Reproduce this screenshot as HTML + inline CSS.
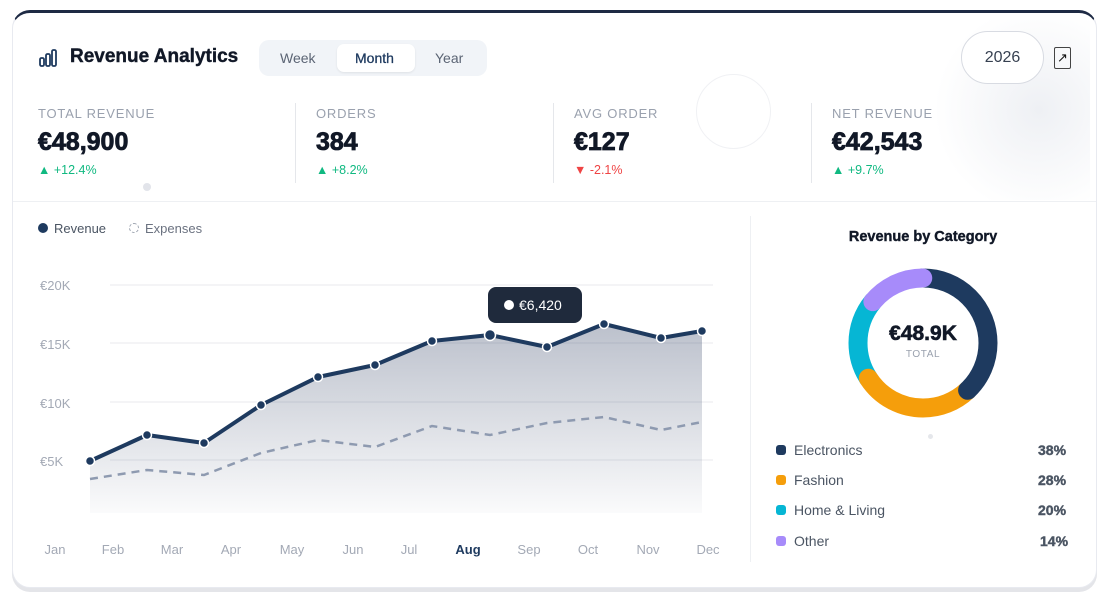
<!DOCTYPE html>
<html><head><meta charset="utf-8"><style>
*{margin:0;padding:0;box-sizing:border-box}
body{width:1110px;height:603px;background:#fff;font-family:"Liberation Sans",sans-serif;position:relative;overflow:hidden}
.card{position:absolute;left:12px;top:10px;width:1085px;height:578px;border-radius:18px;background:#fff;border:1px solid #e8eaf0;border-top:3px solid #1e2a44;box-shadow:0 4px 0 #e4e5e9}
.abs{position:absolute}
.lbl{font-size:13px;color:#9aa1ae;letter-spacing:.8px}
.val{font-size:25px;font-weight:700;color:#111827;-webkit-text-stroke:.8px #111827}
.chg{font-size:12.5px;color:#10b981}
.sep{position:absolute;top:103px;width:1px;height:80px;background:#e5e7eb}
.b{font-weight:700;-webkit-text-stroke:.4px currentColor}
</style></head><body>
<div class="card"></div>
<div class="abs" style="left:920px;top:20px;width:170px;height:180px;background:radial-gradient(circle at 70% 50%,#eef0f4,transparent 70%)"></div>
<svg class="abs" style="left:38px;top:48px" width="22" height="20"><g fill="none" stroke="#1e3a5f" stroke-width="1.8"><rect x="2" y="10" width="4" height="8" rx="1.5"/><rect x="8" y="6" width="4" height="12" rx="1.5"/><rect x="14" y="2" width="4" height="16" rx="1.5"/></g></svg>
<div class="abs b" style="left:70px;top:46px;font-size:19px;color:#111827">Revenue Analytics</div>
<div class="abs" style="left:259px;top:40px;width:228px;height:36px;background:#f1f4f8;border-radius:10px"></div>
<div class="abs" style="left:337px;top:44px;width:78px;height:28px;background:#fff;border-radius:7px;box-shadow:0 1px 2px rgba(0,0,0,.08)"></div>
<div class="abs" style="left:280px;top:50px;font-size:14px;color:#5b6474">Week</div>
<div class="abs" style="left:355px;top:50px;font-size:14px;color:#1e3a5f;-webkit-text-stroke:.3px #1e3a5f">Month</div>
<div class="abs" style="left:435px;top:50px;font-size:14px;color:#5b6474">Year</div>
<div class="abs" style="left:961px;top:31px;width:83px;height:53px;border:1px solid #d8dbe2;border-radius:27px;background:#fff;font-size:16px;color:#374151;text-align:center;line-height:51px">2026</div>
<div class="abs" style="left:1054px;top:47px;width:17px;height:22px;border:1px solid #444;border-radius:2px;font-size:13px;text-align:center;line-height:20px;color:#111">↗</div>
<div class="abs" style="left:696px;top:74px;width:75px;height:75px;border-radius:50%;border:1px solid #f0f1f4"></div>

<div class="abs lbl" style="left:38px;top:106px">TOTAL REVENUE</div>
<div class="abs val" style="left:38px;top:128px">€48,900</div>
<div class="abs chg" style="left:38px;top:163px">▲ +12.4%</div>
<div class="sep" style="left:295px"></div>
<div class="abs lbl" style="left:316px;top:106px">ORDERS</div>
<div class="abs val" style="left:316px;top:128px">384</div>
<div class="abs chg" style="left:316px;top:163px">▲ +8.2%</div>
<div class="sep" style="left:553px"></div>
<div class="abs lbl" style="left:574px;top:106px">AVG ORDER</div>
<div class="abs val" style="left:574px;top:128px">€127</div>
<div class="abs chg" style="left:574px;top:163px;color:#ef4444">▼ -2.1%</div>
<div class="sep" style="left:811px"></div>
<div class="abs lbl" style="left:832px;top:106px">NET REVENUE</div>
<div class="abs val" style="left:832px;top:128px">€42,543</div>
<div class="abs chg" style="left:832px;top:163px">▲ +9.7%</div>
<div class="abs" style="left:143px;top:183px;width:8px;height:8px;border-radius:50%;background:#e2e4ea"></div>
<div class="abs" style="left:13px;top:201px;width:1083px;height:1px;background:#eef0f3"></div>
<div class="abs" style="left:750px;top:216px;width:1px;height:346px;background:#eef0f3"></div>

<div class="abs" style="left:38px;top:223px;width:10px;height:10px;border-radius:50%;background:#1e3a5f"></div>
<div class="abs" style="left:54px;top:221px;font-size:13px;color:#4b5563">Revenue</div>
<div class="abs" style="left:129px;top:223px;width:10px;height:10px;border-radius:50%;border:1px dashed #9ca3af"></div>
<div class="abs" style="left:145px;top:221px;font-size:13px;color:#6b7280">Expenses</div>

<svg class="abs" style="left:0;top:0" width="750" height="603">
<defs><linearGradient id="g" x1="0" y1="0" x2="0" y2="1"><stop offset="0" stop-color="#1e2f55" stop-opacity=".3"/><stop offset="1" stop-color="#1e2f55" stop-opacity=".02"/></linearGradient></defs>
<g stroke="#f0f1f4" stroke-width="1.5"><line x1="110" y1="285" x2="713" y2="285"/><line x1="110" y1="343" x2="713" y2="343"/><line x1="110" y1="402" x2="713" y2="402"/><line x1="110" y1="460" x2="713" y2="460"/></g>
<g font-size="13" fill="#a3a9b5" font-family="Liberation Sans Narrow,Liberation Sans,sans-serif"><text x="40" y="290">€20K</text><text x="40" y="349">€15K</text><text x="40" y="408">€10K</text><text x="40" y="466">€5K</text></g>
<path d="M90,461 L147,435 204,443 261,405 318,377 375,365 432,341 490,335 547,347 604,324 661,338 702,331 L702,513 L90,513Z" fill="url(#g)"/>
<polyline points="90,479 147,470 204,475 261,453 318,440 375,447 432,426 490,435 547,423 604,417 661,430 702,422" fill="none" stroke="#8e9ab0" stroke-width="2.5" stroke-dasharray="8,6"/>
<polyline points="90,461 147,435 204,443 261,405 318,377 375,365 432,341 490,335 547,347 604,324 661,338 702,331" fill="none" stroke="#1e3a5f" stroke-width="4" stroke-linejoin="round"/>
<g fill="#1e3a5f" stroke="#fff" stroke-width="1.5"><circle cx="90" cy="461" r="4.5"/><circle cx="147" cy="435" r="4.5"/><circle cx="204" cy="443" r="4.5"/><circle cx="261" cy="405" r="4.5"/><circle cx="318" cy="377" r="4.5"/><circle cx="375" cy="365" r="4.5"/><circle cx="432" cy="341" r="4.5"/><circle cx="490" cy="335" r="5.5"/><circle cx="547" cy="347" r="4.5"/><circle cx="604" cy="324" r="4.5"/><circle cx="661" cy="338" r="4.5"/><circle cx="702" cy="331" r="4.5"/></g>
<rect x="488" y="287" width="94" height="36" rx="8" fill="#1f2a3c"/>
<circle cx="509" cy="305" r="5" fill="#fff"/>
<text x="519" y="310" font-size="14" fill="#fff">€6,420</text>
<g font-size="13" fill="#a3a9b5" text-anchor="middle"><text x="55" y="554">Jan</text><text x="113" y="554">Feb</text><text x="172" y="554">Mar</text><text x="231" y="554">Apr</text><text x="292" y="554">May</text><text x="353" y="554">Jun</text><text x="409" y="554">Jul</text><text x="468" y="554" fill="#1e3a5f" font-weight="bold">Aug</text><text x="529" y="554">Sep</text><text x="588" y="554">Oct</text><text x="648" y="554">Nov</text><text x="708" y="554">Dec</text></g>
</svg>

<div class="abs b" style="left:760px;top:229px;width:326px;text-align:center;font-size:14.5px;color:#111827">Revenue by Category</div>
<svg class="abs" style="left:848px;top:268px" width="150" height="150">
<g fill="none" stroke-width="19" stroke-linecap="round" transform="rotate(-90 75 75)">
<circle cx="75" cy="75" r="65" stroke="#06b6d4" stroke-dasharray="82 1000" stroke-dashoffset="-269"/>
<circle cx="75" cy="75" r="65" stroke="#f59e0b" stroke-dasharray="114 1000" stroke-dashoffset="-155"/>
<circle cx="75" cy="75" r="65" stroke="#1e3a5f" stroke-dasharray="155 1000" stroke-dashoffset="0"/>
<circle cx="75" cy="75" r="65" stroke="#a78bfa" stroke-dasharray="57 1000" stroke-dashoffset="-351"/>
</g>
<text x="75" y="72" text-anchor="middle" font-size="21" font-weight="bold" fill="#111827" stroke="#111827" stroke-width=".6">€48.9K</text>
<text x="75" y="89" text-anchor="middle" font-size="10" fill="#9aa1ae" letter-spacing=".6">TOTAL</text>
</svg>
<div class="abs" style="left:928px;top:434px;width:5px;height:5px;border-radius:50%;background:#e5e7eb"></div>
<div class="abs" style="left:776px;top:445px;width:10px;height:10px;border-radius:3px;background:#1e3a5f"></div>
<div class="abs" style="left:794px;top:442px;font-size:14px;color:#4b5563">Electronics</div>
<div class="abs b" style="left:1038px;top:442px;font-size:14px;color:#4b5563">38%</div>
<div class="abs" style="left:776px;top:475px;width:10px;height:10px;border-radius:3px;background:#f59e0b"></div>
<div class="abs" style="left:794px;top:472px;font-size:14px;color:#4b5563">Fashion</div>
<div class="abs b" style="left:1038px;top:472px;font-size:14px;color:#4b5563">28%</div>
<div class="abs" style="left:776px;top:505px;width:10px;height:10px;border-radius:3px;background:#06b6d4"></div>
<div class="abs" style="left:794px;top:502px;font-size:14px;color:#4b5563">Home &amp; Living</div>
<div class="abs b" style="left:1038px;top:502px;font-size:14px;color:#4b5563">20%</div>
<div class="abs" style="left:776px;top:536px;width:10px;height:10px;border-radius:3px;background:#a78bfa"></div>
<div class="abs" style="left:794px;top:533px;font-size:14px;color:#4b5563">Other</div>
<div class="abs b" style="left:1040px;top:533px;font-size:14px;color:#4b5563">14%</div>
</body></html>
